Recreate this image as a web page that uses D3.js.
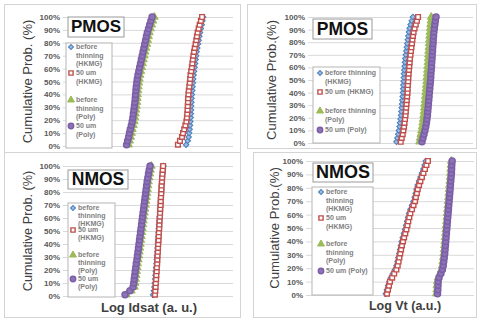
<!DOCTYPE html>
<html>
<head>
<meta charset="utf-8">
<script src="https://cdn.jsdelivr.net/npm/d3@7"></script>
<style>
  body { margin: 0; background: #fff; }
  svg { display: block; font-family: Arial, 'Liberation Sans', sans-serif; }
</style>
</head>
<body>
<svg id="chart" width="480" height="320"></svg>
<script>
// cumulative probability (%) of each ranked sample
const probLevels = [1, 4, 7, 10, 13, 16, 19, 22, 25, 28, 31, 34, 37, 40, 43, 46, 49, 52, 55, 58, 61, 64, 67, 70, 73, 76, 79, 82, 85, 88, 91, 94, 97, 100];
const yTicks = [0, 10, 20, 30, 40, 50, 60, 70, 80, 90, 100];
const seriesNames = ['before thinning (HKMG)', '50 um (HKMG)', 'before thinning (Poly)', '50 um (Poly)'];

// log values, arbitrary units (0..100 across the plot)
// PMOS Idsat
const pIdsatHkmgBefore = [72.4, 73.4, 73.9, 74.2, 74.5, 74.7, 74.9, 75.1, 75.2, 75.3, 75.4, 75.5, 75.6, 75.8, 76.0, 76.2, 76.4, 76.6, 76.8, 77.1, 77.4, 77.7, 78.0, 78.3, 78.6, 79.0, 79.4, 79.8, 80.2, 80.6, 81.1, 81.6, 82.0, 82.4];
const pIdsatHkmg50 = [67.6, 68.8, 70.0, 70.6, 71.3, 72.0, 72.6, 72.9, 73.1, 73.3, 73.4, 73.5, 73.6, 73.8, 74.0, 74.3, 74.6, 74.8, 75.0, 75.4, 75.8, 76.1, 76.4, 76.7, 77.1, 77.5, 78.0, 78.4, 78.8, 79.2, 79.8, 80.4, 81.1, 81.8];
const pIdsatPolyBefore = [38.6, 39.2, 39.8, 40.3, 40.8, 41.4, 41.9, 42.3, 42.6, 42.9, 43.2, 43.5, 43.7, 43.9, 44.1, 44.3, 44.6, 44.9, 45.3, 45.8, 46.3, 46.8, 47.3, 47.8, 48.3, 48.8, 49.3, 49.8, 50.3, 50.8, 51.5, 52.2, 52.9, 53.7];
const pIdsatPoly50 = [37.4, 38.0, 38.6, 39.1, 39.6, 40.2, 40.7, 41.1, 41.4, 41.7, 42.0, 42.3, 42.5, 42.7, 42.9, 43.1, 43.4, 43.7, 44.1, 44.6, 45.1, 45.6, 46.1, 46.6, 47.1, 47.6, 48.1, 48.6, 49.1, 49.6, 50.3, 51.0, 51.7, 52.4];
// PMOS Vt
const pVtHkmgBefore = [53.6, 54.2, 54.7, 55.1, 55.5, 55.8, 56.1, 56.4, 56.6, 56.8, 57.0, 57.2, 57.4, 57.6, 57.7, 57.8, 58.0, 58.1, 58.2, 58.4, 58.6, 58.8, 59.0, 59.3, 59.6, 59.9, 60.2, 60.5, 60.8, 61.2, 61.6, 62.2, 62.9, 63.6];
const pVtHkmg50 = [56.2, 56.8, 57.4, 57.8, 58.2, 58.5, 58.8, 59.1, 59.3, 59.5, 59.7, 59.9, 60.1, 60.3, 60.4, 60.5, 60.7, 60.8, 61.0, 61.2, 61.4, 61.6, 61.8, 62.1, 62.4, 62.7, 63.0, 63.3, 63.6, 64.0, 64.6, 65.3, 66.0, 66.7];
const pVtPolyBefore = [67.6, 68.0, 68.4, 68.8, 69.2, 69.5, 69.8, 70.1, 70.3, 70.5, 70.7, 70.9, 71.1, 71.3, 71.5, 71.7, 71.9, 72.0, 72.2, 72.4, 72.5, 72.7, 72.8, 73.0, 73.1, 73.3, 73.4, 73.6, 73.7, 73.9, 74.1, 74.3, 74.5, 74.7];
const pVtPoly50 = [69.1, 69.7, 70.3, 70.9, 71.4, 71.8, 72.1, 72.4, 72.6, 72.8, 73.0, 73.2, 73.4, 73.6, 73.8, 74.0, 74.2, 74.4, 74.5, 74.7, 74.9, 75.0, 75.2, 75.3, 75.5, 75.6, 75.8, 75.9, 76.1, 76.3, 76.6, 76.9, 77.2, 77.6];
// NMOS Idsat
const nIdsatHkmgBefore = [53.0, 53.5, 53.8, 54.0, 54.2, 54.4, 54.6, 54.8, 55.0, 55.2, 55.3, 55.5, 55.6, 55.8, 55.9, 56.1, 56.2, 56.4, 56.5, 56.7, 56.8, 57.0, 57.1, 57.3, 57.4, 57.6, 57.7, 57.9, 58.0, 58.2, 58.4, 58.6, 58.8, 59.1];
const nIdsatHkmg50 = [54.1, 54.3, 54.5, 54.6, 54.8, 54.9, 55.1, 55.2, 55.4, 55.5, 55.6, 55.8, 55.9, 56.0, 56.2, 56.3, 56.4, 56.6, 56.7, 56.8, 57.0, 57.1, 57.2, 57.4, 57.5, 57.6, 57.8, 57.9, 58.0, 58.2, 58.3, 58.5, 58.7, 58.9];
const nIdsatPolyBefore = [37.3, 40.2, 42.0, 42.4, 42.7, 43.0, 43.3, 43.6, 43.9, 44.3, 44.6, 44.9, 45.2, 45.5, 45.8, 46.1, 46.4, 46.7, 47.0, 47.3, 47.6, 47.9, 48.2, 48.5, 48.8, 49.1, 49.4, 49.7, 50.0, 50.3, 50.7, 51.1, 51.5, 52.0];
const nIdsatPoly50 = [36.5, 39.4, 41.2, 41.6, 41.9, 42.2, 42.5, 42.8, 43.1, 43.5, 43.8, 44.1, 44.4, 44.7, 45.0, 45.3, 45.6, 45.9, 46.2, 46.5, 46.8, 47.1, 47.4, 47.7, 48.0, 48.3, 48.6, 48.9, 49.2, 49.5, 49.9, 50.3, 50.7, 51.2];
// NMOS Vt
const nVtHkmgBefore = [47.5, 48.2, 48.9, 49.6, 50.6, 51.8, 53.0, 53.9, 54.5, 55.0, 55.5, 56.0, 56.5, 57.0, 57.6, 58.3, 59.0, 59.6, 60.2, 60.8, 61.4, 62.2, 63.1, 64.0, 64.7, 65.3, 65.8, 66.5, 67.3, 68.2, 69.0, 69.9, 70.6, 71.3];
const nVtHkmg50 = [48.2, 48.8, 49.4, 50.0, 51.3, 52.5, 53.8, 54.6, 55.1, 55.6, 56.1, 56.6, 57.1, 57.7, 58.4, 59.1, 59.8, 60.4, 60.9, 61.5, 62.1, 63.1, 64.0, 64.9, 65.4, 66.0, 66.5, 67.3, 68.1, 69.0, 69.9, 70.8, 71.7, 72.6];
const nVtPolyBefore = [77.6, 77.8, 77.9, 78.1, 78.6, 79.7, 80.6, 81.1, 81.4, 81.7, 82.0, 82.2, 82.4, 82.6, 82.8, 83.0, 83.2, 83.4, 83.6, 83.8, 84.0, 84.2, 84.4, 84.6, 84.8, 85.0, 85.2, 85.4, 85.6, 85.8, 86.0, 86.1, 86.3, 86.5];
const nVtPoly50 = [78.3, 78.5, 78.6, 78.7, 79.2, 80.3, 81.2, 81.7, 82.0, 82.3, 82.6, 82.8, 83.0, 83.2, 83.4, 83.6, 83.8, 84.0, 84.2, 84.4, 84.6, 84.8, 85.0, 85.2, 85.4, 85.6, 85.8, 86.0, 86.2, 86.4, 86.6, 86.7, 86.8, 87.0];

// marker look per series (same order as seriesNames); the diamond is a turned square
const markers = [
  { type: d3.symbolSquare, size: 15, rot: 45, fill: '#9dbce6', stroke: '#4f81bd', sw: 1.1 },
  { type: d3.symbolSquare, size: 22, rot: 0, fill: '#fff', stroke: '#c0504d', sw: 1.4 },
  { type: d3.symbolTriangle, size: 26, rot: 0, fill: '#9bbb59', stroke: '#9bbb59', sw: 1 },
  { type: d3.symbolCircle, size: 28, rot: 0, fill: '#8d74b8', stroke: '#7b5ea6', sw: 1.5 },
];

const svg = d3.select('#chart');

// panel layout
const panels = [
  { frame: [4.5, 4.5, 236, 148], plot: [63, 233, 17, 146], label: 'PMOS', labelBox: [68, 17, 56, 20], labelSize: 17,
    yTitle: 'Cumulative Prob. (%)', yTitleX: 29, yTitleSize: 13,
    series: [pIdsatHkmgBefore, pIdsatHkmg50, pIdsatPolyBefore, pIdsatPoly50],
    legendBox: [66, 43, 46, 105], legendX: 71, lineH: 8.7, itemY: [47, 73, 100, 126],
    legendLines: [['before', 'thinning', '(HKMG)'], ['50 um', '(HKMG)'], ['before', 'thinning', '(Poly)'], ['50 um', '(Poly)']] },
  { frame: [247.5, 4.5, 229, 144], plot: [308, 473, 17, 143], label: 'PMOS', labelBox: [313, 19, 59, 20], labelSize: 17.5,
    yTitle: 'Cumulative Prob.(%)', yTitleX: 273, yTitleSize: 13,
    series: [pVtHkmgBefore, pVtHkmg50, pVtPolyBefore, pVtPoly50],
    legendBox: [313, 67, 67, 76], legendX: 320, lineH: 9, itemY: [73, 92, 111, 130],
    legendLines: [['before thinning', '(HKMG)'], ['50 um (HKMG)'], ['before thinning', '(Poly)'], ['50 um (Poly)']] },
  { frame: [4.5, 152.5, 236, 165], plot: [63, 233, 166, 296], label: 'NMOS', labelBox: [68, 170, 60, 19], labelSize: 17.5,
    yTitle: 'Cumulative Prob. (%)', yTitleX: 29, yTitleSize: 12.7,
    xTitle: 'Log Idsat (a. u.)', xTitleX: 149, xTitleY: 309, xTitleSize: 13,
    series: [nIdsatHkmgBefore, nIdsatHkmg50, nIdsatPolyBefore, nIdsatPoly50],
    legendBox: [68, 203, 47, 94], legendX: 73, lineH: 8, itemY: [208, 230, 255, 279],
    legendLines: [['before', 'thinning', '(HKMG)'], ['50 um', '(HKMG)'], ['before', 'thinning', '(Poly)'], ['50 um', '(Poly)']] },
  { frame: [253.5, 152.5, 223, 165], plot: [306, 474, 161, 295], label: 'NMOS', labelBox: [313, 163, 60, 19], labelSize: 18,
    yTitle: 'Cumulative Prob.(%)', yTitleX: 276, yTitleSize: 13.2,
    xTitle: 'Log Vt (a.u.)', xTitleX: 405, xTitleY: 307, xTitleSize: 12.5,
    series: [nVtHkmgBefore, nVtHkmg50, nVtPolyBefore, nVtPoly50],
    legendBox: [312, 187, 61, 108], legendX: 321, lineH: 8.8, itemY: [192, 218, 244, 271],
    legendLines: [['before', 'thinning', '(HKMG)'], ['50 um', '(HKMG)'], ['before', 'thinning', '(Poly)'], ['50 um (Poly)']] },
];

panels.forEach(function (p) {
  const g = svg.append('g');
  const [x0, x1, yTop, yBot] = p.plot;

  // 1. frame
  g.append('rect')
    .attr('x', p.frame[0]).attr('y', p.frame[1])
    .attr('width', p.frame[2]).attr('height', p.frame[3])
    .attr('fill', '#fff').attr('stroke', '#d4d4d4');

  // 2. scales
  const xScale = d3.scaleLinear().domain([0, 100]).range([x0, x1]);
  const yScale = d3.scaleLinear().domain([0, 100]).range([yBot, yTop]);

  // 3. y axis with gridlines
  const yAxis = g.append('g')
    .attr('transform', 'translate(' + x0 + ',0)')
    .call(d3.axisLeft(yScale).tickValues(yTicks).tickSize(-(x1 - x0)).tickPadding(3).tickFormat((d) => d + '%'));
  yAxis.select('.domain').remove();
  yAxis.selectAll('line').attr('stroke', '#d9d9d9');
  yAxis.selectAll('text')
    .attr('fill', '#595959').style('font-size', '8px').style('font-weight', 'bold')
    .style('font-family', 'Arial, Liberation Sans, sans-serif');

  // 4. axis titles
  g.append('text')
    .attr('transform', 'translate(' + p.yTitleX + ',' + (yTop + yBot) / 2 + ') rotate(-90)')
    .attr('text-anchor', 'middle').attr('dominant-baseline', 'middle')
    .attr('fill', '#404040').style('font-size', p.yTitleSize + 'px')
    .text(p.yTitle);

  if (p.xTitle) {
    g.append('text')
      .attr('x', p.xTitleX).attr('y', p.xTitleY)
      .attr('text-anchor', 'middle').attr('dominant-baseline', 'middle')
      .attr('fill', '#404040').style('font-size', p.xTitleSize + 'px').style('font-weight', 'bold')
      .text(p.xTitle);
  }

  // 5. the points, one column of markers per series
  p.series.forEach(function (vals, i) {
    const m = markers[i];
    const sym = d3.symbol().type(m.type).size(m.size);
    g.append('g')
      .selectAll('path')
      .data(vals.map((v, k) => ({ x: v, p: probLevels[k] })))
      .enter()
      .append('path')
      .attr('d', sym)
      .attr('transform', (d) => 'translate(' + xScale(d.x) + ',' + yScale(d.p) + ') rotate(' + m.rot + ')')
      .attr('fill', m.fill).attr('stroke', m.stroke).attr('stroke-width', m.sw);
  });

  // 6. device label
  g.append('rect')
    .attr('x', p.labelBox[0]).attr('y', p.labelBox[1])
    .attr('width', p.labelBox[2]).attr('height', p.labelBox[3])
    .attr('fill', '#fff').attr('stroke', '#9a9a9a');
  g.append('text')
    .attr('x', p.labelBox[0] + p.labelBox[2] / 2).attr('y', p.labelBox[1] + p.labelBox[3] / 2 + 1)
    .attr('text-anchor', 'middle').attr('dominant-baseline', 'middle')
    .attr('fill', '#111').style('font-size', p.labelSize + 'px').style('font-weight', 'bold')
    .text(p.label);

  // 7. legend
  g.append('rect')
    .attr('x', p.legendBox[0]).attr('y', p.legendBox[1])
    .attr('width', p.legendBox[2]).attr('height', p.legendBox[3])
    .attr('fill', '#fff').attr('stroke', '#b5b5b5');
  seriesNames.forEach(function (name, i) {
    const m = markers[i];
    const item = g.append('g').attr('class', 'legend-item').attr('data-name', name);
    item.append('path')
      .attr('d', d3.symbol().type(m.type).size(m.size * 0.8)())
      .attr('transform', 'translate(' + p.legendX + ',' + p.itemY[i] + ') rotate(' + m.rot + ')')
      .attr('fill', m.fill).attr('stroke', m.stroke).attr('stroke-width', m.sw);
    p.legendLines[i].forEach(function (line, k) {
      item.append('text')
        .attr('x', p.legendX + 5).attr('y', p.itemY[i] + k * p.lineH)
        .attr('dominant-baseline', 'middle')
        .attr('fill', '#7f7f7f').style('font-size', '7px').style('font-weight', 'bold')
        .text(line);
    });
  });
});
</script>
</body>
</html>
